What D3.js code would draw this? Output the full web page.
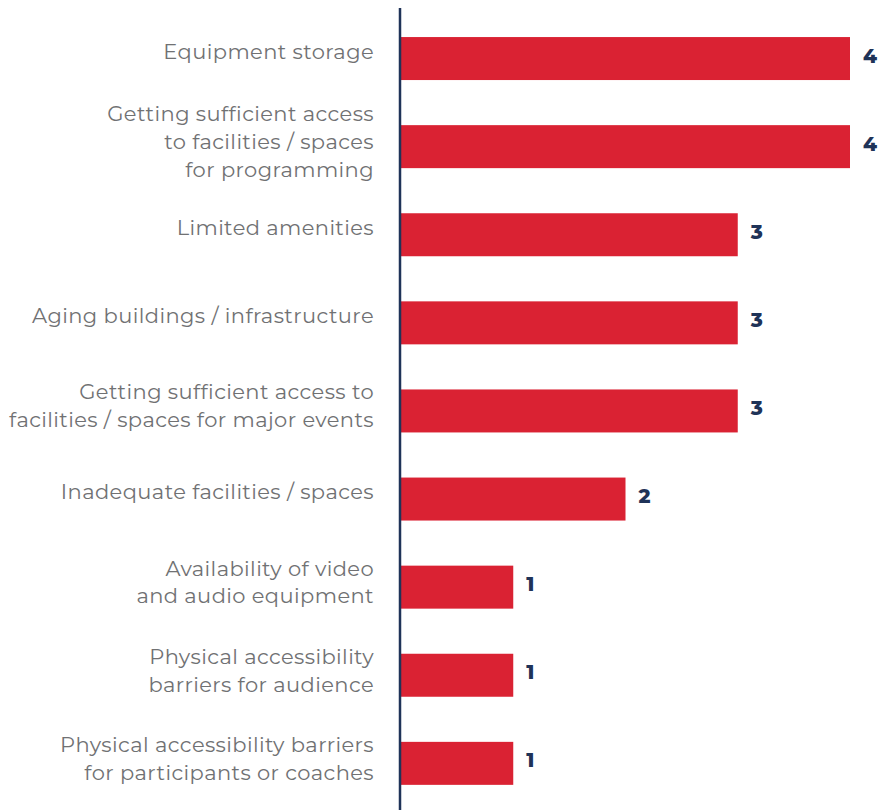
<!DOCTYPE html>
<html>
<head>
<meta charset="utf-8">
<script src="https://cdn.jsdelivr.net/npm/d3@7"></script>
<style>
  html, body { margin: 0; padding: 0; background: #ffffff; }
  svg { display: block; }
</style>
</head>
<body>
<script>
// Facility challenges, number of responses
const categories = [
  ["Equipment storage"],
  ["Getting sufficient access", "to facilities / spaces", "for programming"],
  ["Limited amenities"],
  ["Aging buildings / infrastructure"],
  ["Getting sufficient access to", "facilities / spaces for major events"],
  ["Inadequate facilities / spaces"],
  ["Availability of video", "and audio equipment"],
  ["Physical accessibility", "barriers for audience"],
  ["Physical accessibility barriers", "for participants or coaches"]
];
const values = [4, 4, 3, 3, 3, 2, 1, 1, 1];

const width = 879, height = 810;
const axisX = 400;

const svg = d3.select("body").append("svg")
  .attr("width", width).attr("height", height);

const x = d3.scaleLinear().domain([0, 4]).range([axisX + 1, 850]);
const y = d3.scaleBand()
  .domain(d3.range(values.length))
  .range([14.5, 807.4])
  .paddingInner(0.512)
  .paddingOuter(0.256);

// bars
svg.selectAll("rect.bar")
  .data(values)
  .join("rect")
  .attr("class", "bar")
  .attr("x", x(0))
  .attr("y", (d, i) => y(i))
  .attr("width", d => x(d) - x(0))
  .attr("height", y.bandwidth())
  .attr("fill", "#da2233");

// value labels
svg.selectAll("text.val")
  .data(values)
  .join("text")
  .attr("class", "val")
  .attr("x", d => x(d) + 13)
  .attr("y", (d, i) => y(i) + y.bandwidth() / 2 - 3)
  .attr("dy", "0.35em")
  .attr("font-family", "Montserrat, 'Open Sans', sans-serif")
  .attr("font-weight", 800)
  .attr("font-size", 20)
  .attr("fill", "#1f3358")
  .text(d => d);

// category labels
const lineH = 28;
const labels = svg.selectAll("text.cat")
  .data(categories)
  .join("text")
  .attr("class", "cat")
  .attr("text-anchor", "end")
  .attr("font-family", "Montserrat, 'Open Sans', sans-serif")
  .attr("font-size", 21)
  .attr("letter-spacing", 0.4)
  .attr("fill", "#707173")
  .attr("transform", (d, i) => `translate(374,${y(i) + y.bandwidth() / 2 - (d.length > 1 ? 5 : 7)})`);

labels.selectAll("tspan")
  .data(d => d.map((t, k) => ({ t, k, n: d.length })))
  .join("tspan")
  .attr("x", 0)
  .attr("y", d => (d.k - (d.n - 1) / 2) * lineH)
  .attr("dy", "0.35em")
  .text(d => d.t);

// vertical axis line
svg.append("line")
  .attr("x1", axisX).attr("x2", axisX)
  .attr("y1", 8).attr("y2", height)
  .attr("stroke", "#1f3358")
  .attr("stroke-width", 2.5);
</script>
</body>
</html>
